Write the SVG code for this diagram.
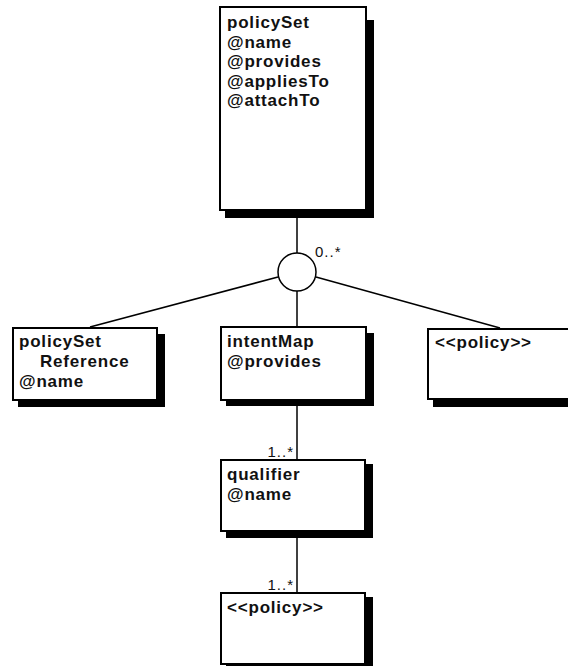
<svg xmlns="http://www.w3.org/2000/svg" width="568" height="666" viewBox="0 0 568 666">
<style>
.box{fill:#fff;stroke:#000;stroke-width:2}
.sh{fill:#000;stroke:none}
.t{font-family:"Liberation Sans",Arial,sans-serif;font-weight:bold;font-size:17px;letter-spacing:0.8px;fill:#111}
.m{font-family:"Liberation Sans",Arial,sans-serif;font-size:15px;letter-spacing:1px;fill:#111}
.c{stroke:#000;stroke-width:1.5;fill:none}
</style>
<rect width="568" height="666" fill="#fff"/>
<g id="connectors">
<line class="c" x1="297" y1="210" x2="297" y2="253"/>
<line class="c" x1="278" y1="277" x2="90" y2="327"/>
<line class="c" x1="316" y1="277" x2="500" y2="328"/>
<line class="c" x1="297" y1="291" x2="297" y2="327"/>
<line class="c" x1="297" y1="405" x2="297" y2="460"/>
<line class="c" x1="297" y1="537" x2="297" y2="593"/>
<circle id="junction" cx="297" cy="272" r="19" fill="#fff" stroke="#000" stroke-width="1.5"/>
<text class="m" x="315" y="257">0..*</text>
<text class="m" x="294" y="457" text-anchor="end">1..*</text>
<text class="m" x="294" y="590" text-anchor="end">1..*</text>
</g>
<g id="policySet">
<path class="sh" d="M366 20 H374 V218 H225 V210 H366 Z"/>
<rect class="box" x="220" y="7" width="146" height="203"/>
<text class="t" x="227" y="28">policySet</text>
<text class="t" x="227" y="48">@name</text>
<text class="t" x="227" y="67">@provides</text>
<text class="t" x="227" y="87">@appliesTo</text>
<text class="t" x="227" y="106">@attachTo</text>
</g>
<g id="policySetReference">
<path class="sh" d="M157 334 H165 V407 H18 V400 H157 Z"/>
<rect class="box" x="13" y="328" width="144" height="72"/>
<text class="t" x="19" y="347">policySet</text>
<text class="t" x="40" y="367">Reference</text>
<text class="t" x="19" y="387">@name</text>
</g>
<g id="intentMap">
<path class="sh" d="M366 333 H374 V406 H226 V400 H366 Z"/>
<rect class="box" x="221" y="327" width="145" height="73"/>
<text class="t" x="227" y="347">intentMap</text>
<text class="t" x="227" y="367">@provides</text>
</g>
<g id="policy1">
<path class="sh" d="M433 399 H570 V407 H433 Z"/>
<rect class="box" x="428" y="329" width="145" height="70"/>
<text class="t" x="435" y="348">&lt;&lt;policy&gt;&gt;</text>
</g>
<g id="qualifier">
<path class="sh" d="M365 464 H373 V538 H226 V531 H365 Z"/>
<rect class="box" x="221" y="460" width="144" height="71"/>
<text class="t" x="227" y="480">qualifier</text>
<text class="t" x="227" y="500">@name</text>
</g>
<g id="policy2">
<path class="sh" d="M365 597 H373 V672 H226 V665 H365 Z"/>
<rect class="box" x="221" y="593" width="144" height="71"/>
<text class="t" x="227" y="613">&lt;&lt;policy&gt;&gt;</text>
</g>
</svg>
